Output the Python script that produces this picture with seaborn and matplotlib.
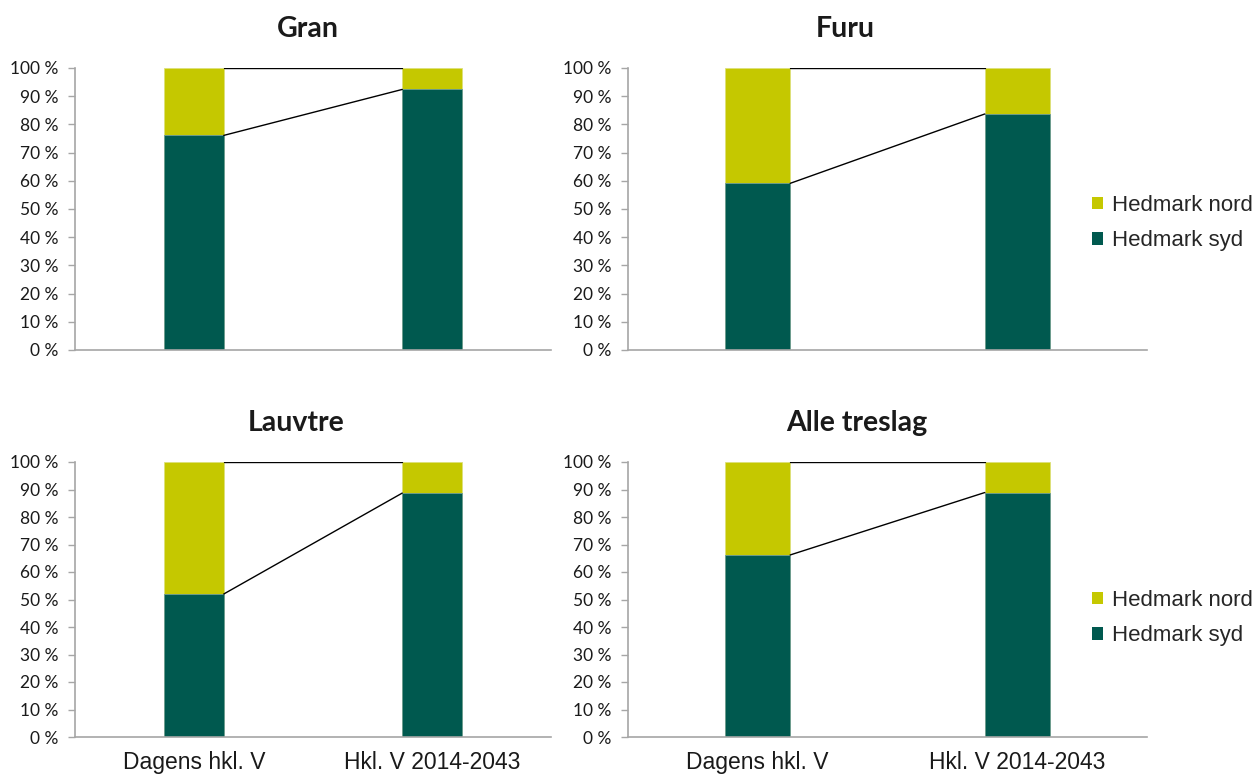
import matplotlib
matplotlib.use("Agg")
import matplotlib.pyplot as plt
import seaborn as sns
import pandas as pd
from matplotlib.patches import Patch
from matplotlib.ticker import FuncFormatter

# ---- data (percent) ----
categories = ["Dagens hkl. V", "Hkl. V 2014-2043"]
panel_titles = ["Gran", "Furu", "Lauvtre", "Alle treslag"]
series_names = ["Hedmark nord", "Hedmark syd"]

gran_syd = [76.1, 92.4]
gran_nord = [23.9, 7.6]
furu_syd = [59.1, 83.7]
furu_nord = [40.9, 16.3]
lauvtre_syd = [52.0, 88.7]
lauvtre_nord = [48.0, 11.3]
alle_syd = [66.2, 88.9]
alle_nord = [33.8, 11.1]

yticks = list(range(0, 101, 10))

# ---- style ----
YELLOW = "#C5C800"
GREEN = "#00594F"
AXIS_GREY = "#A6A6A6"

sns.set_theme(style="white")
plt.rcParams["font.family"] = ["Lato", "DejaVu Sans"]

W, H = 1259, 776
fig = plt.figure(figsize=(W / 100, H / 100), dpi=100)

def fx(px):
    return px / W

def fy(px):
    return 1 - px / H

# axes boxes in pixels: (left, right, top, bottom)
boxes = [
    (75, 551, 68, 350),
    (628, 1147, 68, 350),
    (75, 551, 462, 737),
    (628, 1147, 462, 737),
]
title_x = [0.49, 0.419, 0.465, 0.441]
syd_all = [gran_syd, furu_syd, lauvtre_syd, alle_syd]
nord_all = [gran_nord, furu_nord, lauvtre_nord, alle_nord]

for i, (l, r, t, b) in enumerate(boxes):
    ax = fig.add_axes([fx(l), fy(b), fx(r - l), (b - t) / H])
    syd = syd_all[i]
    nord = nord_all[i]
    total = [s + n for s, n in zip(syd, nord)]
    df = pd.DataFrame({"cat": categories, "syd": syd, "total": total})

    sns.barplot(data=df, x="cat", y="total", color=YELLOW, saturation=1,
                width=0.25, ax=ax, edgecolor="#DDE07A", linewidth=0.6)
    sns.barplot(data=df, x="cat", y="syd", color=GREEN, saturation=1,
                width=0.25, ax=ax, edgecolor="#6E9E98", linewidth=0.6)

    # series lines between the bars
    p0, p1 = ax.patches[0], ax.patches[1]
    x0 = p0.get_x() + p0.get_width()
    x1 = p1.get_x()
    ax.plot([x0, x1], [total[0], total[1]], color="black", lw=1.0, zorder=3)
    ax.plot([x0, x1], [syd[0], syd[1]], color="black", lw=1.0, zorder=3)

    ax.set_xlim(-0.5, 1.5)
    ax.set_ylim(0, 100)
    ax.set_yticks(yticks)
    ax.yaxis.set_major_formatter(FuncFormatter(lambda v, p: f"{int(v)} %"))
    ax.set_xlabel("")
    ax.set_ylabel("")

    for s in ["top", "right"]:
        ax.spines[s].set_visible(False)
    for s in ["left", "bottom"]:
        ax.spines[s].set_color(AXIS_GREY)
        ax.spines[s].set_linewidth(1.2)

    ax.tick_params(axis="y", length=5, width=1, color=AXIS_GREY, direction="out",
                   labelsize=12.5, labelcolor="#1a1a1a", pad=7, left=True)
    ax.tick_params(axis="x", length=0, pad=10)
    if i < 2:
        ax.set_xticklabels([])
    else:
        ax.set_xticklabels(categories, fontfamily="Liberation Sans", fontsize=16.5,
                           color="#1a1a1a")

    ax.set_title(panel_titles[i], x=title_x[i], fontsize=20.5, fontweight="bold",
                 pad=22, color="#1a1a1a")

    if i in (1, 3):
        handles = [Patch(facecolor=YELLOW, edgecolor="none"),
                   Patch(facecolor=GREEN, edgecolor="none")]
        cy = 223 if i == 1 else 618
        ax.legend(handles, series_names, loc="center left",
                  bbox_to_anchor=(fx(1092), fy(cy)), bbox_transform=fig.transFigure,
                  frameon=False, borderpad=0, borderaxespad=0,
                  handlelength=0.5, handleheight=0.5, handletextpad=0.4,
                  labelspacing=0.65,
                  prop={"family": "Liberation Sans", "size": 16})

fig.savefig("out.png", dpi=100)
